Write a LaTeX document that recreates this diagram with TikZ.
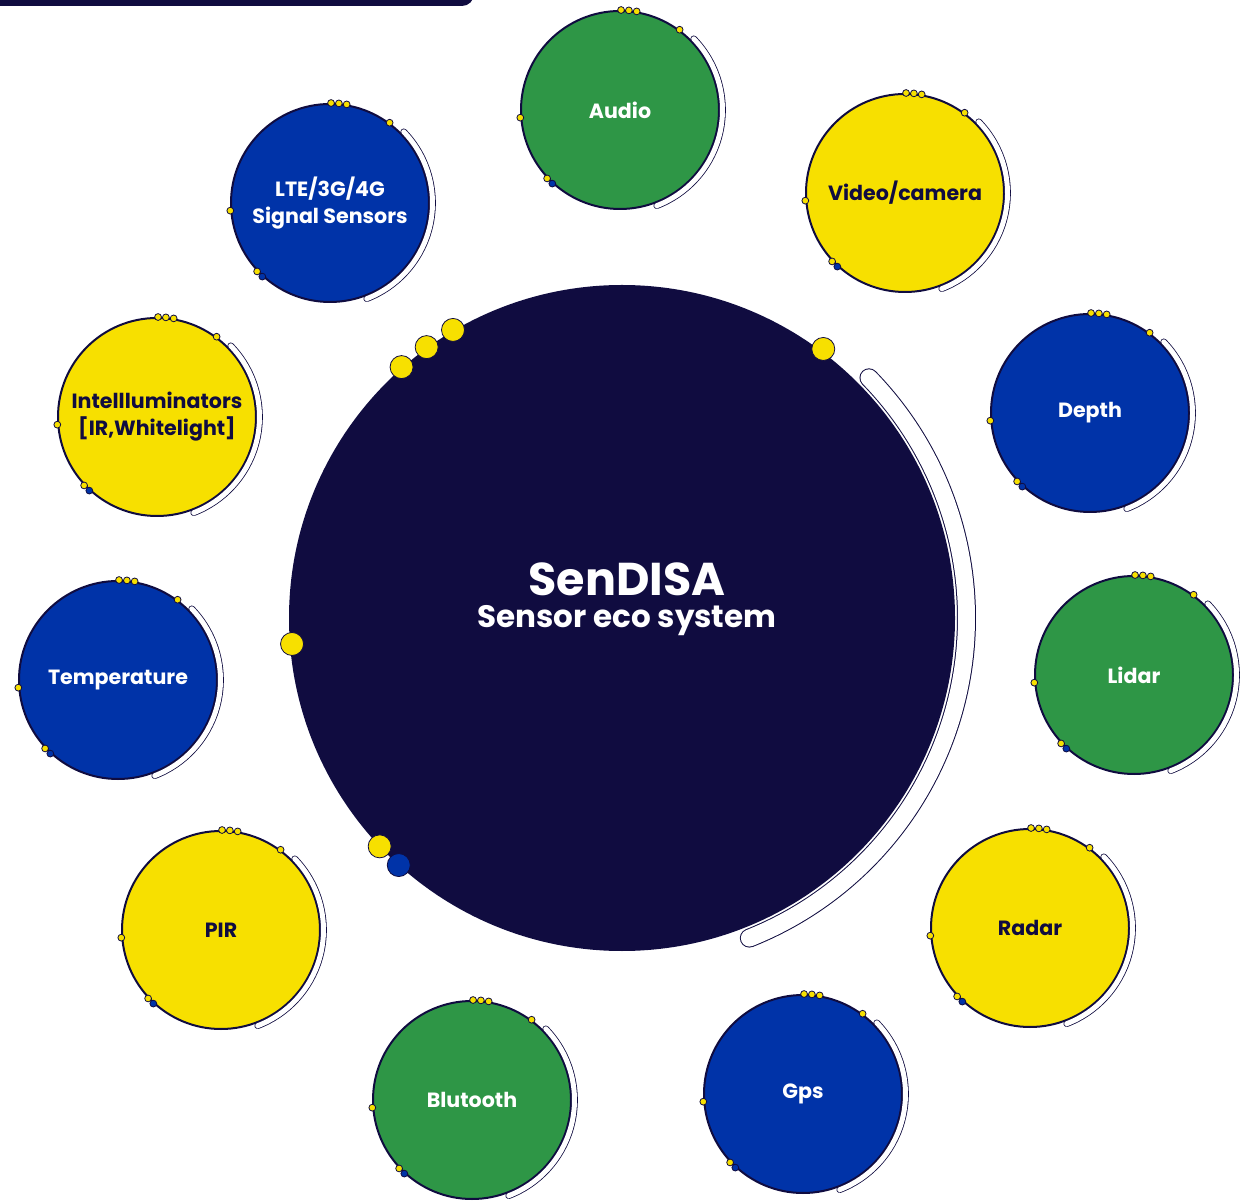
\documentclass[tikz,border=0pt]{standalone}
\usepackage{fontspec}
\setmainfont{Poppins}
\usepackage{tikz}
\usetikzlibrary{calc}
\definecolor{sennavy}{RGB}{16,12,64}
\definecolor{sengreen}{RGB}{46,150,70}
\definecolor{senblue}{RGB}{0,51,168}
\definecolor{senyellow}{RGB}{247,224,0}

\begin{document}
\begin{tikzpicture}[x=0.5pt,y=0.5pt,
  sensor/.style={circle,draw=sennavy,line width=1pt,minimum size=99pt,inner sep=0pt,align=center,font=\bfseries\fontsize{10.3}{13.5}\selectfont},
  greensensor/.style={sensor,fill=sengreen,text=white},
  bluesensor/.style={sensor,fill=senblue,text=white},
  yellowsensor/.style={sensor,fill=senyellow,text=sennavy},
  dot/.style={fill=senyellow,draw=sennavy,line width=0.4pt}]
\useasboundingbox (0,0) rectangle (1242,-1202);
\fill[sennavy,rounded corners=6pt] (-30,30) rectangle (474,-6);

% hub
\node[circle,fill=sennavy,minimum size=333pt,inner sep=0pt] (hub) at (622,-618) {};
\node[text=white,anchor=base,inner sep=0pt,font=\bfseries\fontsize{23}{26}\selectfont] (title) at (627,-596) {SenDISA};
\node[text=white,anchor=base,inner sep=0pt,font=\bfseries\fontsize{15.5}{18}\selectfont] (subtitle) at (627,-628) {Sensor eco system};
\draw[sennavy,line width=9.5pt,line cap=round] ($(hub)+(44.2:344.5)$) arc[start angle=44.2,end angle=-68.3,radius=344.5];
\draw[white,line width=8.5pt,line cap=round] ($(hub)+(44.2:344.5)$) arc[start angle=44.2,end angle=-68.3,radius=344.5];
\filldraw[dot] ($(hub)+(53.2:336)$) circle (11.5);
\filldraw[dot] ($(hub)+(120.4:334)$) circle (11.5);
\filldraw[dot] ($(hub)+(125.8:334)$) circle (11.5);
\filldraw[dot] ($(hub)+(131.3:334)$) circle (11.5);
\filldraw[dot] ($(hub)+(184.5:331)$) circle (11.5);
\filldraw[dot] ($(hub)+(223.3:333)$) circle (11.5);
\filldraw[dot,fill=senblue] ($(hub)+(227.9:333)$) circle (11.5);

% sensors
\node[greensensor] (audio) at (620,-110) {Audio};
\node[yellowsensor] (video) at (905,-193) {Video/camera};
\node[bluesensor] (depth) at (1090,-413) {Depth};
\node[greensensor] (lidar) at (1134,-675) {Lidar};
\node[yellowsensor] (radar) at (1030,-928) {Radar};
\node[bluesensor] (gps) at (803,-1094) {Gps};
\node[greensensor] (bluetooth) at (472,-1100) {Blutooth};
\node[yellowsensor] (pir) at (221,-930) {PIR};
\node[bluesensor] (temp) at (118,-680) {Temperature};
\node[yellowsensor] (illum) at (157,-417) {Intellluminators\\{[IR,Whitelight]}};
\node[bluesensor] (lte) at (330,-203) {LTE/3G/4G\\Signal Sensors};

\foreach \s in {audio,video,depth,lidar,radar,gps,bluetooth,pir,temp,illum,lte}{
  \draw[sennavy,line width=3.3pt,line cap=round] ($(\s)+(44:102.5)$) arc[start angle=44,end angle=-69,radius=102.5];
  \draw[white,line width=2.5pt,line cap=round] ($(\s)+(44:102.5)$) arc[start angle=44,end angle=-69,radius=102.5];
  \filldraw[dot] ($(\s)+(89.4:100)$) circle (3.4);
  \filldraw[dot] ($(\s)+(84.9:100)$) circle (3.4);
  \filldraw[dot] ($(\s)+(80.4:100)$) circle (3.4);
  \filldraw[dot] ($(\s)+(53.4:100)$) circle (3.4);
  \filldraw[dot] ($(\s)+(184.4:100)$) circle (3.4);
  \filldraw[dot] ($(\s)+(223.2:100)$) circle (3.4);
  \filldraw[dot,fill=senblue] ($(\s)+(227.4:100)$) circle (3.4);
}
\end{tikzpicture}
\end{document}
